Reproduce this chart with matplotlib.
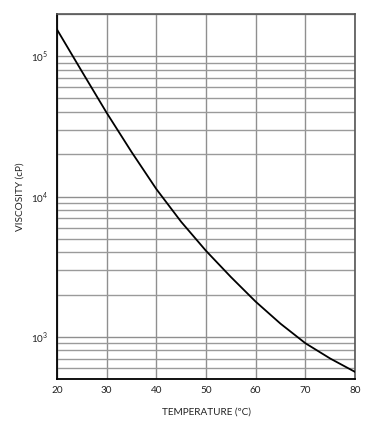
import matplotlib
matplotlib.use("Agg")
import matplotlib.pyplot as plt
from matplotlib.ticker import LogLocator, FixedLocator, NullFormatter

plt.rcParams['font.family'] = ['Lato', 'DejaVu Sans']
plt.rcParams['mathtext.fontset'] = 'custom'
plt.rcParams['mathtext.rm'] = 'Lato'

temperature = [20, 25, 30, 35, 40, 45, 50, 55, 60, 65, 70, 75, 80]
viscosity = [155000, 78000, 39500, 20800, 11300, 6600, 4100, 2670, 1780, 1240, 900, 700, 562]

x_ticks = [20, 30, 40, 50, 60, 70, 80]
y_major = [1e3, 1e4, 1e5]
y_labels = [r'$10^3$', r'$10^4$', r'$10^5$']

fig = plt.figure(figsize=(3.86, 4.38), dpi=100)
ax = fig.add_axes([57/386, 59/438, 298/386, 365/438])

ax.plot(temperature, viscosity, color='black', lw=1.3, zorder=3)
ax.set_yscale('log')
ax.set_xlim(20, 80)
ax.set_ylim(500, 200000)

ax.set_xticks(x_ticks)
ax.set_xticklabels([str(t) for t in x_ticks])
ax.yaxis.set_major_locator(FixedLocator(y_major))
ax.set_yticklabels(y_labels)
ax.yaxis.set_minor_locator(LogLocator(base=10, subs=range(2, 10), numticks=20))
ax.yaxis.set_minor_formatter(NullFormatter())

ax.grid(True, which='major', axis='both', color='#8f8f8f', lw=1.0)
ax.grid(True, which='minor', axis='y', color='#9a9a9a', lw=1.0)
ax.set_axisbelow(True)

ax.tick_params(axis='both', which='both', length=0, labelsize=7.2, colors='#222222')
ax.tick_params(axis='x', pad=5)
ax.tick_params(axis='y', pad=6)

for s in ['left', 'bottom']:
    ax.spines[s].set_color('black')
    ax.spines[s].set_linewidth(1.3)
for s in ['top', 'right']:
    ax.spines[s].set_color('#555555')
    ax.spines[s].set_linewidth(1.2)

ax.set_xlabel('TEMPERATURE (ºC)', fontsize=7.2, labelpad=9, color='#222222')
ax.set_ylabel('VISCOSITY (cP)', fontsize=7.2, labelpad=5, color='#222222')

fig.savefig('out.png', dpi=100)
